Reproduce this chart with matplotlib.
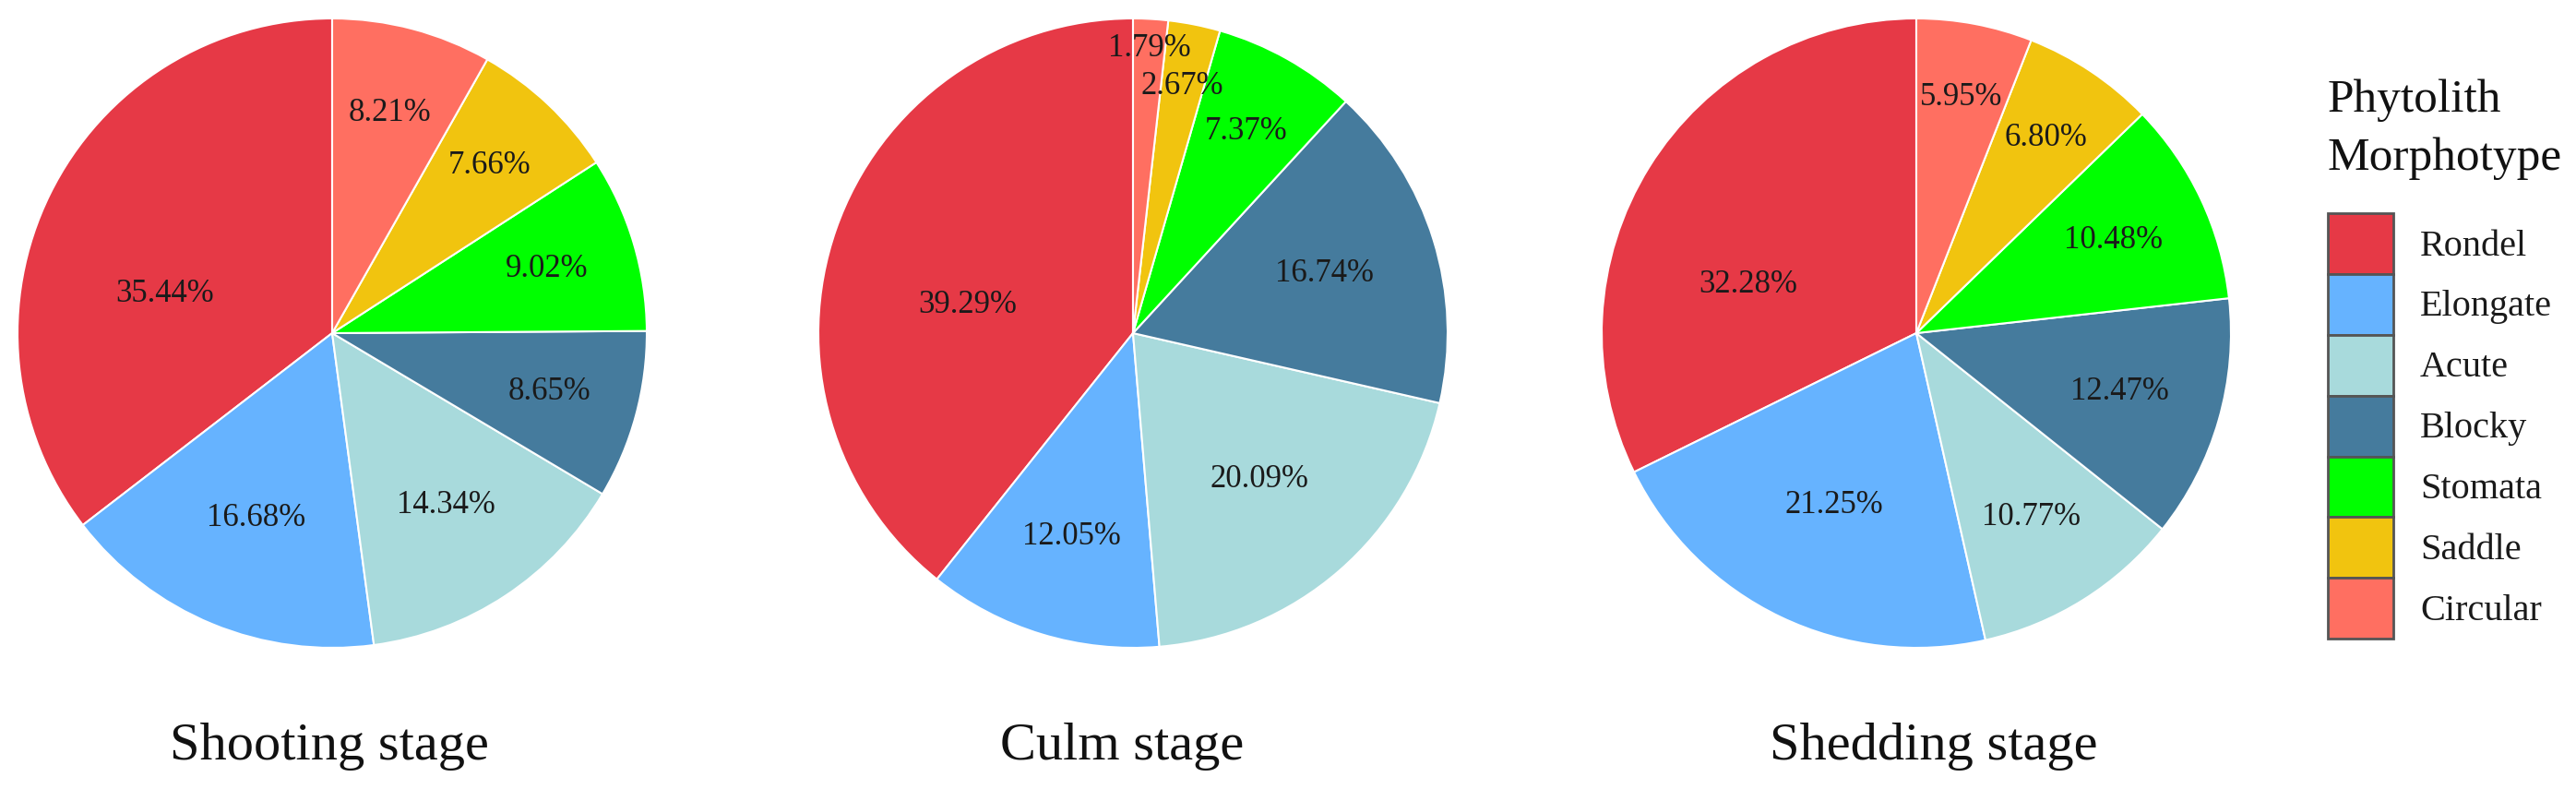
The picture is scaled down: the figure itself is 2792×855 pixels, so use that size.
import numpy as np
import matplotlib
matplotlib.use('Agg')
import matplotlib.pyplot as plt
from matplotlib.patches import Patch

plt.rcParams['font.family'] = ['Liberation Serif', 'DejaVu Serif']

# data (legend order)
morphotypes = ['Rondel', 'Elongate', 'Acute', 'Blocky', 'Stomata', 'Saddle', 'Circular']
stages = ['Shooting stage', 'Culm stage', 'Shedding stage']
shooting = [35.44, 16.68, 14.34, 8.65, 9.02, 7.66, 8.21]
culm = [39.29, 12.05, 20.09, 16.74, 7.37, 2.67, 1.79]
shedding = [32.28, 21.25, 10.77, 12.47, 10.48, 6.80, 5.95]

colors = ['#E63946', '#66B3FF', '#A8DADC', '#457B9D', '#00FF00', '#F1C40F', '#FF6F61']

W, H = 2792, 855
fig = plt.figure(figsize=(W / 100, H / 100), dpi=100)
renderer = fig.canvas.get_renderer()

# pie axes placement (pixels)
lefts = [19, 887, 1736]
title_shift = [-0.01, -0.035, 0.055]
size = 682
top = 20

for left, title, vals, dx in zip(lefts, stages, [shooting, culm, shedding], title_shift):
    ax = fig.add_axes([left / W, (H - top - size) / H, size / W, size / H])
    wedges, _ = ax.pie(vals, colors=colors, startangle=90, counterclock=True,
                       wedgeprops=dict(edgecolor='white', linewidth=1.5))
    ax.set_xlim(-1, 1)
    ax.set_ylim(-1, 1)
    ax.set_aspect('equal')

    total = sum(vals)
    labels = []
    for w, v in zip(wedges, vals):
        frac = v / total
        # thin slices: label sits closer to the rim
        r = min(0.94, 0.42 - 0.121 * np.log(frac))
        mid = (w.theta1 + w.theta2) / 2
        if w.theta1 < 180 < w.theta2:
            # wide slice on the left: nudge the label towards the horizontal
            mid = mid + 0.5 * (180 - mid)
        ang = np.deg2rad(mid)
        t = ax.text(r * np.cos(ang), r * np.sin(ang), f'{v:.2f}%',
                    ha='center', va='center', fontsize=25, color='#1a1a1a')
        labels.append((frac, t, ang, r))

    # keep neighbouring labels of tiny slices apart: push inwards
    placed = []
    for frac, t, ang, r in sorted(labels, key=lambda p: p[0]):
        while r > 0.3 and any(t.get_window_extent(renderer).padded(6).overlaps(b)
                              for b in placed):
            r -= 0.01
            t.set_position((r * np.cos(ang), r * np.sin(ang)))
        placed.append(t.get_window_extent(renderer))

    ax.text(dx, -1.315, title, ha='center', va='center', fontsize=42,
            color='#111111', clip_on=False)

fig.text(2523 / W, 1 - 86 / H, 'Phytolith\nMorphotype', ha='left', va='top',
         fontsize=37, linespacing=1.45, color='#111111')

handles = [Patch(facecolor=c, edgecolor='#555555', linewidth=2) for c in colors]
leg = fig.legend(handles, morphotypes, loc='upper left',
                 bbox_to_anchor=(2523 / W, 1 - 231 / H),
                 fontsize=29, frameon=False, borderpad=0, borderaxespad=0,
                 labelspacing=0, handlelength=1.76, handleheight=2.14,
                 handletextpad=0.72)
for t in leg.get_texts():
    t.set_color('#1a1a1a')

fig.savefig('out.png', dpi=100)
